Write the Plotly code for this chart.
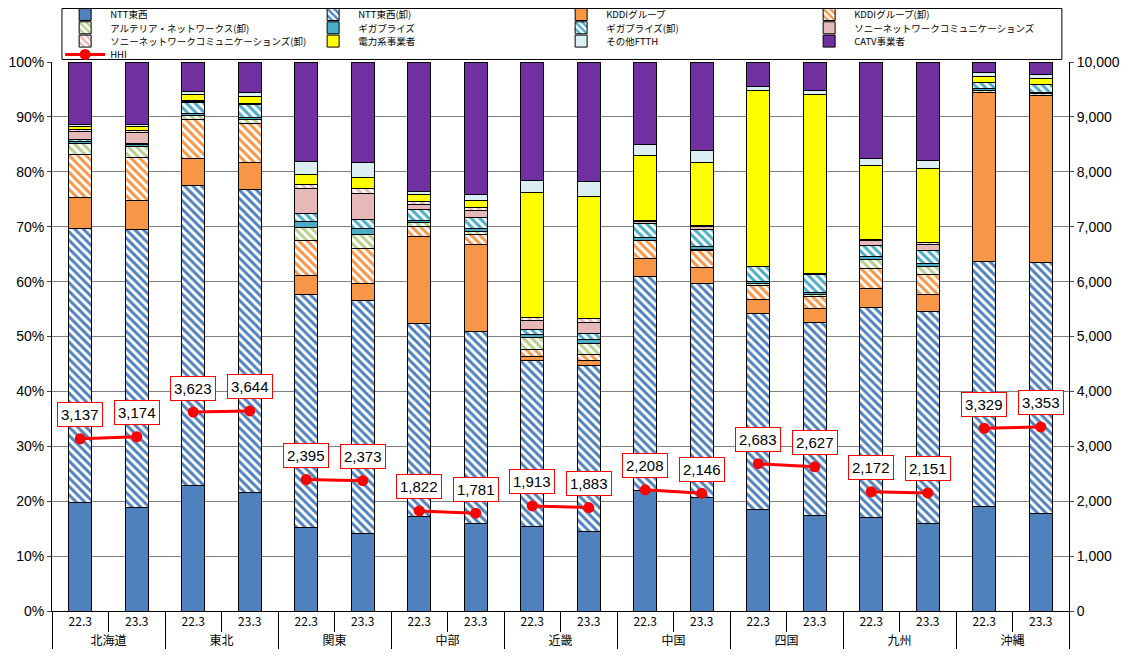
import plotly.graph_objects as go

# 地域と時点
regions = ["北海道", "東北", "関東", "中部", "近畿", "中国", "四国", "九州", "沖縄"]
years = ["22.3", "23.3"]

# シェア（%） 各地域 22.3, 23.3 の順
ntt = [19.7, 18.9, 22.8, 21.5, 15.3, 14.2, 17.2, 16.0, 15.4, 14.5, 21.9, 20.6, 18.5, 17.4, 17.0, 16.0, 19.1, 17.8]
ntt_w = [50.0, 50.5, 54.7, 55.3, 42.4, 42.3, 35.2, 35.0, 30.2, 30.3, 39.1, 39.1, 35.6, 35.2, 38.3, 38.5, 44.5, 45.6]
kddi = [5.6, 5.4, 4.9, 4.9, 3.4, 3.2, 15.8, 15.7, 0.8, 0.9, 3.2, 2.9, 2.7, 2.5, 3.5, 3.2, 30.9, 30.5]
kddi_w = [7.9, 7.8, 7.2, 7.1, 6.3, 6.4, 1.8, 1.8, 1.3, 1.1, 3.2, 3.1, 2.4, 2.2, 3.6, 3.6, 0.0, 0.0]
arteria_w = [2.0, 2.1, 0.7, 0.8, 2.4, 2.4, 0.7, 0.7, 2.2, 2.0, 0.1, 0.1, 0.4, 0.4, 1.7, 1.5, 0.3, 0.3]
giga = [0.3, 0.2, 0.4, 0.3, 1.1, 1.2, 0.4, 0.4, 0.5, 0.7, 0.5, 0.6, 0.4, 0.4, 0.4, 0.5, 0.3, 0.2]
giga_w = [0.3, 0.3, 2.0, 2.4, 1.5, 1.6, 2.1, 2.1, 0.8, 1.1, 2.6, 3.0, 2.7, 3.2, 2.0, 2.3, 1.2, 1.5]
sony = [1.5, 2.0, 0.1, 0.1, 4.5, 4.8, 0.9, 1.2, 1.8, 2.0, 0.4, 0.7, 0.1, 0.1, 0.9, 1.2, 0.0, 0.0]
sony_w = [0.4, 0.4, 0.1, 0.0, 0.7, 0.9, 0.5, 0.6, 0.4, 0.6, 0.2, 0.2, 0.0, 0.0, 0.3, 0.4, 0.0, 0.0]
denryoku = [0.5, 0.6, 1.2, 1.3, 2.0, 2.0, 1.2, 1.2, 22.8, 22.3, 11.7, 11.4, 32.1, 32.6, 13.5, 13.4, 1.0, 1.1]
other_ftth = [0.5, 0.5, 0.6, 0.8, 2.3, 2.7, 0.6, 1.1, 2.3, 2.7, 2.0, 2.1, 0.7, 0.8, 1.2, 1.5, 0.8, 0.8]
catv = [11.3, 11.3, 5.3, 5.5, 18.1, 18.3, 23.6, 24.2, 21.5, 21.8, 15.1, 16.2, 4.4, 5.2, 17.6, 17.9, 1.9, 2.2]

hhi = [3137, 3174, 3623, 3644, 2395, 2373, 1822, 1781, 1913, 1883,
       2208, 2146, 2683, 2627, 2172, 2151, 3329, 3353]

x_region = [r for r in regions for _ in years]
x_year = years * len(regions)

# (名前, 値, 色, 卸=斜線, 凡例の行)
series = [
    ("NTT東西", ntt, "#4F81BD", False, "legend"),
    ("NTT東西(卸)", ntt_w, "#4F81BD", True, "legend"),
    ("KDDIグループ", kddi, "#F79646", False, "legend"),
    ("KDDIグループ(卸)", kddi_w, "#F79646", True, "legend"),
    ("アルテリア・ネットワークス(卸)", arteria_w, "#B5CF8A", True, "legend2"),
    ("ギガプライズ", giga, "#4BACC6", False, "legend2"),
    ("ギガプライズ(卸)", giga_w, "#4BACC6", True, "legend2"),
    ("ソニーネットワークコミュニケーションズ", sony, "#E6B9B8", False, "legend2"),
    ("ソニーネットワークコミュニケーションズ(卸)", sony_w, "#E6B9B8", True, "legend3"),
    ("電力系事業者", denryoku, "#FFFF00", False, "legend3"),
    ("その他FTTH", other_ftth, "#DAEEF3", False, "legend3"),
    ("CATV事業者", catv, "#7030A0", False, "legend3"),
]

fig = go.Figure()

for name, vals, color, hatched, leg in series:
    marker = dict(color=color, line=dict(color="black", width=1))
    if hatched:
        marker["pattern"] = dict(shape="\\", fgcolor=color, bgcolor="white",
                                 size=6, solidity=0.5, fillmode="replace")
    fig.add_trace(go.Bar(x=[x_region, x_year], y=vals, name=name, marker=marker,
                         width=0.4, legend=leg))

# HHI（地域ごとに線を分ける）
for i, r in enumerate(regions):
    fig.add_trace(go.Scatter(
        x=[[r, r], years],
        y=hhi[2 * i:2 * i + 2],
        yaxis="y2",
        mode="lines+markers",
        name="HHI",
        legend="legend4",
        legendgroup="HHI",
        showlegend=(i == 0),
        line=dict(color="#FF0000", width=3),
        marker=dict(color="#FF0000", size=11),
    ))

for i, v in enumerate(hhi):
    fig.add_annotation(
        x=i, y=v, xref="x", yref="y2",
        text=f"{v:,}", showarrow=False, yshift=24,
        font=dict(size=15, color="black", family="Liberation Sans"),
        bgcolor="white", bordercolor="#FF0000", borderwidth=1, borderpad=3,
    )

# 凡例の枠
fig.add_shape(type="rect", xref="paper", yref="paper",
              x0=0.0098, x1=0.993, y0=1.0046, y1=1.0974,
              line=dict(color="black", width=1), fillcolor="white", layer="below")

legend_style = dict(
    orientation="h", x=0.008, xanchor="left", yanchor="middle",
    traceorder="normal", entrywidth=193, itemwidth=40,
    borderwidth=0, bgcolor="rgba(0,0,0,0)", font=dict(size=9.5),
)
row_y = [1.0865, 1.0623, 1.0381, 1.0138]

# ページ本体の余白 8px を差し引いた大きさ
fig.update_layout(
    width=1121, height=649,
    margin=dict(l=44, r=60, t=54, b=46, autoexpand=False),
    barmode="stack",
    plot_bgcolor="white",
    paper_bgcolor="white",
    font=dict(family="Noto Sans CJK JP, Liberation Sans", size=12, color="black"),
    legend=dict(legend_style, y=row_y[0]),
    legend2=dict(legend_style, y=row_y[1]),
    legend3=dict(legend_style, y=row_y[2]),
    legend4=dict(legend_style, y=row_y[3]),
    xaxis=dict(
        type="multicategory", range=[-0.5, 17.5],
        showline=True, linecolor="black",
        ticks="outside", ticklen=20, tickcolor="black",
        showdividers=True, dividercolor="black", dividerwidth=1,
        tickfont=dict(size=12), automargin=False,
    ),
    yaxis=dict(
        range=[0, 100], dtick=10, ticksuffix="%",
        showgrid=True, gridcolor="#808080", gridwidth=1,
        showline=True, linecolor="black", ticks="outside", ticklen=4,
        tickfont=dict(size=14, family="Liberation Sans"), automargin=False,
    ),
    yaxis2=dict(
        overlaying="y", side="right", range=[0, 10000], dtick=1000,
        tickformat=",", showgrid=False,
        showline=True, linecolor="black", ticks="outside", ticklen=4,
        tickfont=dict(size=14, family="Liberation Sans"), automargin=False,
    ),
)

fig.write_html("out.html")
